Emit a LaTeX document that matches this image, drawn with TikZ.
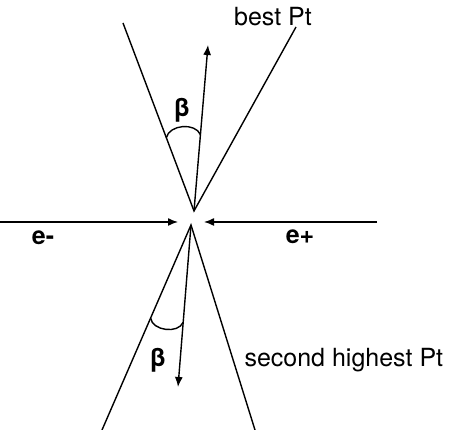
\documentclass[tikz,border=0pt]{standalone}
\usepackage{fontspec}
\setmainfont{TeX Gyre Heros}
\usepackage{tikz}
\usetikzlibrary{arrows.meta,calc}

\begin{document}
\begin{tikzpicture}[
  x=1pt, y=1pt,
  line/.style={line width=1.4pt},
  arr/.style={-{Latex[length=10pt, width=8pt]}, line width=1.4pt},
  lbl/.style={font=\fontsize{25}{30}\selectfont},
  blbl/.style={font=\fontsize{25}{30}\selectfont\bfseries}
]
\useasboundingbox (0,0) rectangle (450,430);
% vertices and line ends
\coordinate (vu) at (194,219);
\coordinate (vl) at (191,205);
\coordinate (tl) at (123,407);
\coordinate (tr) at (296,403);
\coordinate (bl) at (102,0);
\coordinate (br) at (255,0);
\coordinate (em) at (0,208);
\coordinate (ep) at (377,208);
\coordinate (emtip) at (178,208);
\coordinate (eptip) at (204,208);
% upper jet
\draw[line] (tl) -- (vu) -- (tr);
\draw[arr] (vu) -- (208,385) coordinate (ta);
\draw[line] ($(vu)!0.39!(tl)$) to[bend left=72] ($(vu)!0.46!(ta)$);
% lower jet
\draw[line] (bl) -- (vl) -- (br);
\draw[arr] (vl) -- (178,43) coordinate (ba);
\draw[line] ($(vl)!0.454!(bl)$) to[bend right=75] ($(vl)!0.6!(ba)$);
% beams
\draw[arr] (em) -- (emtip);
\draw[arr] (ep) -- (eptip);
% labels
\node[lbl] (best) at (273,413) {best Pt};
\node[lbl, anchor=west] (second) at (241,70) {second highest Pt};
\node[blbl] (betau) at (182,320) {β};
\node[blbl] (betal) at (158,70) {β};
\node[blbl] (eminus) at (43,192) {e-};
\node[blbl] (eplus) at (300,193) {e+};
\end{tikzpicture}
\end{document}
